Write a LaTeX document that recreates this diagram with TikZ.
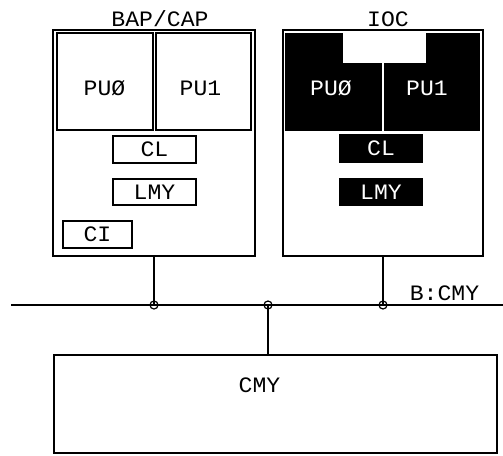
\documentclass[tikz,border=0pt]{standalone}
\usepackage{fontspec}
\newfontfamily\pixfont[FakeStretch=1.05]{Liberation Mono}
\begin{document}
\begin{tikzpicture}[x=1pt,y=-1pt,line width=1.6pt,
	txt/.style={inner sep=0pt,text height=14pt,text depth=0pt,font=\pixfont\fontsize{22pt}{22pt}\selectfont},
	box/.style={draw,txt},
	blk/.style={fill=black,txt,text=white},
	junc/.style={circle,draw,line width=1.2pt,inner sep=0pt,minimum size=8pt}]
	\useasboundingbox (0,0) rectangle (503,455);
	\node[box,minimum width=202,minimum height=226] (bap) at (154,143) {};
	\node[box,minimum width=200,minimum height=226] (ioc) at (383,143) {};
	\node[box,minimum width=443,minimum height=98] (cmy) at (275.5,404) {};
	\node[txt] (baptitle) at (160,19) {BAP/CAP};
	\node[txt] (ioctitle) at (388,19) {IOC};
	\node[box,minimum width=96,minimum height=97] (lpu0) at (105,81.5) {};
	\node[box,minimum width=95,minimum height=97] (lpu1) at (203.5,81.5) {};
	\node[txt] (lpu0t) at (104.5,88) {PUØ};
	\node[txt] (lpu1t) at (200.5,88) {PU1};
	\node[box,minimum width=83,minimum height=27] (lcl) at (154.5,149.5) {CL};
	\node[box,minimum width=83,minimum height=26] (llmy) at (154.5,192) {LMY};
	\node[box,minimum width=69,minimum height=27] (ci) at (97.5,234.5) {CI};
	\node[blk,minimum width=97,minimum height=98] (rpu0) at (333.5,82) {};
	\node[blk,minimum width=96,minimum height=98] (rpu1) at (432,82) {};
	\node[fill=white,minimum width=83,minimum height=30,inner sep=0pt] (notch) at (384.5,48) {};
	\node[txt,text=white] (rpu0t) at (331,88) {PUØ};
	\node[txt,text=white] (rpu1t) at (427,88) {PU1};
	\node[blk,minimum width=84,minimum height=29] (rcl) at (381,148.5) {CL};
	\node[blk,minimum width=84,minimum height=28] (rlmy) at (381,192) {LMY};
	\node[txt] (cmyt) at (259.5,385) {CMY};
	\node[txt] (bust) at (444.5,293.5) {B:CMY};
	\coordinate (busw) at (11,305);
	\coordinate (buse) at (503,305);
	\draw (busw)--(buse);
	\node[junc] (j1) at (bap.south |- busw) {};
	\node[junc] (j2) at (268,305) {};
	\node[junc] (j3) at (ioc.south |- busw) {};
	\draw (bap.south)--(j1.center);
	\draw (ioc.south)--(j3.center);
	\draw (j2.center)--(cmy.north -| j2);
\end{tikzpicture}
\end{document}
